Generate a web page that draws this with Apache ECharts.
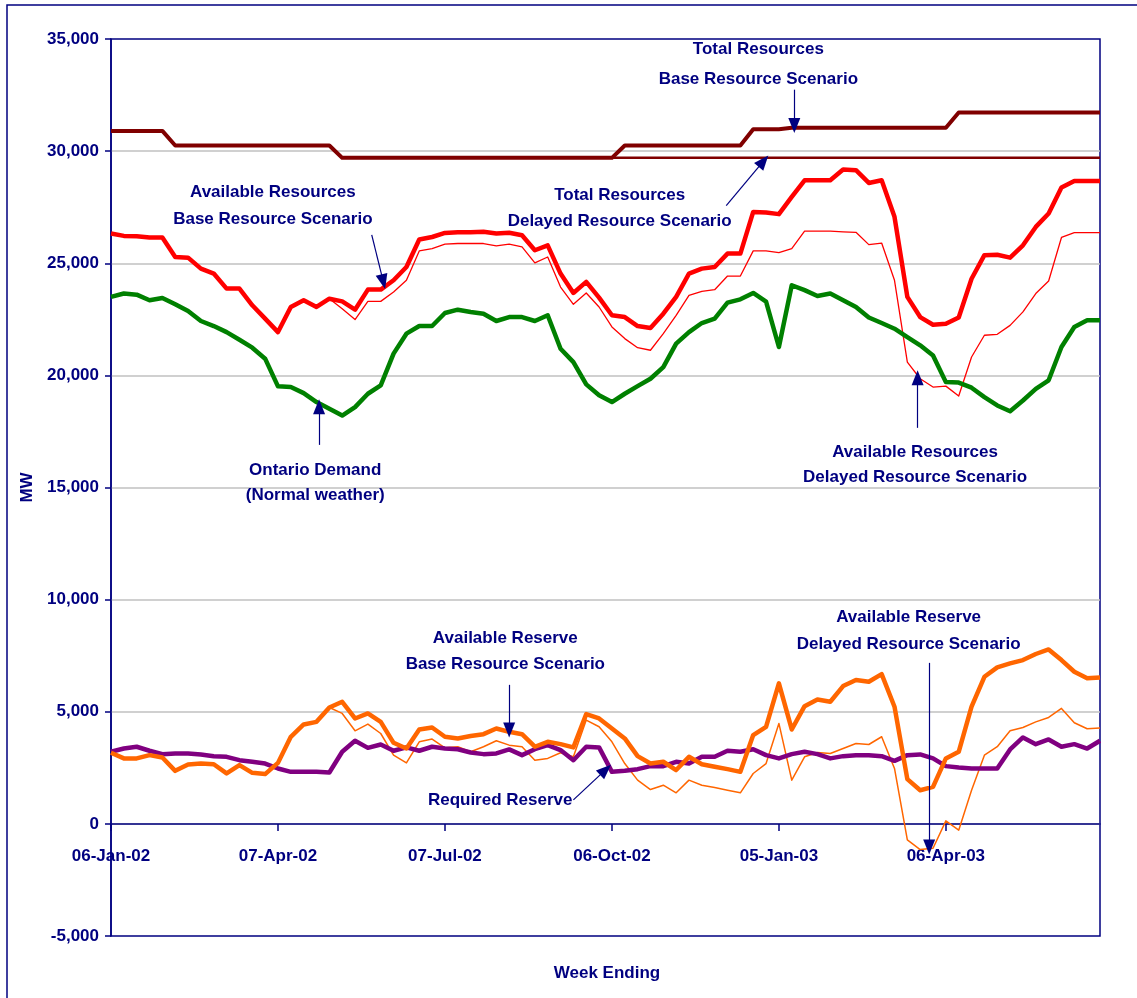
<!DOCTYPE html>
<html>
<head>
<meta charset="utf-8">
<style>
  html, body { margin: 0; padding: 0; background: #fff; }
  #chart { width: 1137px; height: 998px; }
</style>
<script src="https://cdn.jsdelivr.net/npm/echarts@6/dist/echarts.min.js"></script>
</head>
<body>
<div id="chart"></div>
<script>
// week ending dates, 78 weeks from 06-Jan-02
const FIRST_WEEK = Date.UTC(2002, 0, 6)
const WEEK_COUNT = 78
const MONTHS = ['Jan', 'Feb', 'Mar', 'Apr', 'May', 'Jun', 'Jul', 'Aug', 'Sep', 'Oct', 'Nov', 'Dec']
const weeks = []
for (let i = 0; i < WEEK_COUNT; i++) {
  const d = new Date(FIRST_WEEK + i * 7 * 86400000)
  weeks.push(String(d.getUTCDate()).padStart(2, '0') + '-' + MONTHS[d.getUTCMonth()] + '-' + String(d.getUTCFullYear()).slice(2))
}

const yTicks = { min: -5000, max: 35000, step: 5000 }

const totalBase = [
  30900, 30900, 30900, 30900, 30900, 30250, 30250, 30250, 30250, 30250,
  30250, 30250, 30250, 30250, 30250, 30250, 30250, 30250, 29700, 29700,
  29700, 29700, 29700, 29700, 29700, 29700, 29700, 29700, 29700, 29700,
  29700, 29700, 29700, 29700, 29700, 29700, 29700, 29700, 29700, 29700,
  30250, 30250, 30250, 30250, 30250, 30250, 30250, 30250, 30250, 30250,
  30980, 30980, 30980, 31040, 31040, 31040, 31040, 31040, 31040, 31040,
  31040, 31040, 31040, 31040, 31040, 31040, 31720, 31720, 31720, 31720,
  31720, 31720, 31720, 31720, 31720, 31720, 31720, 31720
]
const totalDelayed = [
  30900, 30900, 30900, 30900, 30900, 30250, 30250, 30250, 30250, 30250,
  30250, 30250, 30250, 30250, 30250, 30250, 30250, 30250, 29700, 29700,
  29700, 29700, 29700, 29700, 29700, 29700, 29700, 29700, 29700, 29700,
  29700, 29700, 29700, 29700, 29700, 29700, 29700, 29700, 29700, 29700,
  29700, 29700, 29700, 29700, 29700, 29700, 29700, 29700, 29700, 29700,
  29700, 29700, 29700, 29700, 29700, 29700, 29700, 29700, 29700, 29700,
  29700, 29700, 29700, 29700, 29700, 29700, 29700, 29700, 29700, 29700,
  29700, 29700, 29700, 29700, 29700, 29700, 29700, 29700
]
const availBase = [
  26330, 26220, 26200, 26150, 26150, 25280, 25250, 24760, 24540, 23870,
  23870, 23125, 22530, 21930, 23050, 23350, 23050, 23420, 23300, 22930,
  23825, 23825, 24240, 24835, 26060, 26170, 26350, 26385, 26385, 26400,
  26330, 26360, 26250, 25580, 25800, 24540, 23675, 24170, 23470, 22680,
  22600, 22200, 22110, 22750, 23500, 24540, 24760, 24830, 25430, 25430,
  27290, 27260, 27190, 27960, 28700, 28700, 28700, 29180, 29150, 28580,
  28700, 27070, 23500, 22600, 22260, 22300, 22580, 24310, 25360, 25380,
  25250, 25800, 26620, 27220, 28380, 28670, 28670, 28670
]
const availDelayed = [
  26330, 26220, 26200, 26150, 26150, 25280, 25250, 24760, 24540, 23870,
  23870, 23125, 22530, 21930, 23050, 23350, 23050, 23420, 22970, 22490,
  23300, 23300, 23720, 24240, 25550, 25655, 25850, 25880, 25880, 25880,
  25775, 25850, 25730, 25015, 25280, 23940, 23170, 23675, 23050, 22160,
  21640, 21235, 21120, 21860, 22680, 23570, 23750, 23820, 24430, 24430,
  25550, 25550, 25470, 25650, 26430, 26430, 26430, 26400, 26380, 25830,
  25900, 24240, 20590, 19850, 19480, 19520, 19080, 20820, 21790, 21830,
  22230, 22830, 23650, 24210, 26150, 26370, 26370, 26370
]
const demand = [
  23500, 23650, 23600, 23350, 23450, 23170, 22870, 22425, 22200, 21930,
  21590, 21235, 20745, 19510, 19480, 19210, 18810, 18510, 18210, 18585,
  19180, 19550, 20970, 21860, 22200, 22200, 22780, 22930, 22830, 22750,
  22425, 22600, 22600, 22425, 22680, 21190, 20590, 19600, 19110, 18810,
  19180, 19520, 19850, 20370, 21415, 21930, 22335, 22530, 23245, 23390,
  23675, 23290, 21265, 24020, 23800, 23540, 23650, 23350, 23050, 22580,
  22335, 22080, 21710, 21340, 20890, 19700, 19680, 19450, 19030, 18660,
  18400, 18880, 19400, 19780, 21265, 22160, 22455, 22455
]
const reserveBase = [
  3170, 2920, 2920, 3065, 2960, 2365, 2650, 2690, 2660, 2250,
  2620, 2275, 2220, 2720, 3885, 4435, 4550, 5190, 5445, 4700,
  4925, 4550, 3615, 3360, 4210, 4300, 3885, 3810, 3915, 4000,
  4255, 4105, 4000, 3440, 3660, 3555, 3410, 4895, 4700, 4255,
  3810, 3020, 2690, 2770, 2400, 2990, 2660, 2545, 2440, 2320,
  3960, 4330, 6265, 4210, 5250, 5550, 5445, 6145, 6415, 6340,
  6680, 5225, 1995, 1500, 1650, 2920, 3215, 5225, 6560, 6980,
  7155, 7305, 7575, 7780, 7305, 6785, 6490, 6530
]
const reserveDelayed = [
  3170, 2920, 2920, 3065, 2960, 2365, 2650, 2690, 2660, 2250,
  2620, 2275, 2220, 2720, 3885, 4435, 4550, 5190, 4925, 4150,
  4450, 4030, 3065, 2720, 3660, 3780, 3390, 3440, 3215, 3440,
  3705, 3510, 3440, 2840, 2920, 3170, 2990, 4630, 4330, 3660,
  2690, 1950, 1530, 1725, 1385, 1950, 1725, 1620, 1500, 1385,
  2245, 2690, 4480, 1950, 2990, 3185, 3140, 3360, 3585, 3540,
  3885, 2470, -715, -1145, -1085, 135, -280, 1500, 3065, 3440,
  4150, 4300, 4550, 4745, 5150, 4510, 4240, 4270
]
const requiredReserve = [
  3215, 3360, 3440, 3260, 3110, 3140, 3140, 3095, 3020, 2990,
  2840, 2770, 2690, 2470, 2320, 2320, 2320, 2290, 3215, 3705,
  3390, 3540, 3260, 3410, 3260, 3440, 3360, 3330, 3185, 3110,
  3140, 3320, 3065, 3330, 3510, 3290, 2840, 3440, 3410, 2320,
  2365, 2440, 2575, 2575, 2770, 2690, 2990, 2990, 3260, 3215,
  3330, 3065, 2920, 3110, 3215, 3110, 2920, 3020, 3065, 3065,
  3020, 2810, 3065, 3095, 2920, 2575, 2515, 2470, 2470, 2470,
  3320, 3855, 3555, 3765, 3440, 3555, 3360, 3705
]

// annotation text: [week position, MW, text, line height]
const noteTexts = [
  [50.4, 33850, 'Total Resources\nBase Resource Scenario', 30],
  [12.6, 27540, 'Available Resources\nBase Resource Scenario', 27],
  [39.6, 27470, 'Total Resources\nDelayed Resource Scenario', 26],
  [15.9, 15230, 'Ontario Demand\n(Normal weather)', 25],
  [62.6, 16030, 'Available Resources\nDelayed Resource Scenario', 25],
  [30.7, 7700, 'Available Reserve\nBase Resource Scenario', 26],
  [30.3, 1070, 'Required Reserve', 20],
  [62.1, 8610, 'Available Reserve\nDelayed Resource Scenario', 27]
]
// annotation arrows: [from week, from MW, to week, to MW]
const noteArrows = [
  [53.2, 32740, 53.2, 31140],
  [20.3, 26270, 21.2, 24180],
  [47.9, 27570, 50.8, 29550],
  [16.2, 16900, 16.2, 18600],
  [62.8, 17660, 62.8, 19890],
  [31.0, 6200, 31.0, 4190],
  [36.0, 1070, 38.5, 2410],
  [63.7, 7180, 63.7, -1030]
]

const NAVY = '#000080'
const FONT = '"Liberation Sans", Arial, sans-serif'
const textStyle = { color: NAVY, fontWeight: 'bold', fontSize: 17, fontFamily: FONT }

// grid box; the category axis sits on the zero line
const GRID = { left: 111, top: 39, width: 989, height: 897 }
const zeroOffset = -GRID.height * (0 - yTicks.min) / (yTicks.max - yTicks.min)

const lineSeries = (name, data, color, width) => ({
  name,
  type: 'line',
  data,
  showSymbol: false,
  symbol: 'none',
  lineStyle: { color, width, join: 'round' },
  itemStyle: { color },
  z: 3
})

const chart = echarts.init(document.getElementById('chart'))
chart.setOption({
  animation: false,
  backgroundColor: '#fff',
  grid: Object.assign({
    show: true, borderColor: NAVY, borderWidth: 1.5, backgroundColor: 'transparent'
  }, GRID),
  xAxis: [
    {
      type: 'category',
      data: weeks,
      boundaryGap: false,
      position: 'bottom',
      offset: zeroOffset,
      axisLine: { onZero: false, lineStyle: { color: NAVY, width: 1.5 } },
      axisTick: { show: true, interval: 12, length: 7, lineStyle: { color: NAVY, width: 1.5 } },
      axisLabel: Object.assign({ interval: 12, margin: 24 }, textStyle),
      splitLine: { show: false }
    },
    { type: 'value', min: 0, max: WEEK_COUNT - 1, show: false }
  ],
  yAxis: {
    type: 'value',
    min: yTicks.min,
    max: yTicks.max,
    interval: yTicks.step,
    name: 'MW',
    nameLocation: 'middle',
    nameGap: 68,
    nameTextStyle: textStyle,
    axisLine: { show: true, lineStyle: { color: NAVY, width: 1.5 } },
    axisTick: { show: true, length: 6, lineStyle: { color: NAVY, width: 1.5 } },
    axisLabel: Object.assign({
      margin: 12,
      formatter: v => v.toLocaleString('en-US')
    }, textStyle),
    splitLine: { show: true, showMinLine: false, showMaxLine: false, lineStyle: { color: '#c0c0c0', width: 1.5 } }
  },
  series: [
    lineSeries('Total Resources Delayed', totalDelayed, '#800000', 2.5),
    lineSeries('Total Resources Base', totalBase, '#800000', 4),
    lineSeries('Available Resources Delayed', availDelayed, '#ff0000', 1.3),
    lineSeries('Available Resources Base', availBase, '#ff0000', 4.5),
    lineSeries('Ontario Demand', demand, '#008000', 4.5),
    lineSeries('Available Reserve Delayed', reserveDelayed, '#ff6600', 1.5),
    lineSeries('Required Reserve', requiredReserve, '#800080', 4.5),
    lineSeries('Available Reserve Base', reserveBase, '#ff6600', 4.5),
    {
      name: 'notes',
      type: 'line',
      xAxisIndex: 1,
      data: [],
      silent: true,
      z: 5,
      markPoint: {
        symbol: 'circle',
        symbolSize: 0,
        itemStyle: { color: 'transparent' },
        data: noteTexts.map(([x, y, text, lh]) => ({
          coord: [x, y],
          label: Object.assign({ show: true, position: 'inside', formatter: text, lineHeight: lh, align: 'center' }, textStyle)
        }))
      },
      markLine: {
        silent: true,
        symbol: ['none', 'triangle'],
        symbolSize: [12, 15],
        label: { show: false },
        lineStyle: { color: NAVY, width: 1.2, type: 'solid' },
        data: noteArrows.map(([x1, y1, x2, y2]) => [{ coord: [x1, y1] }, { coord: [x2, y2] }])
      }
    }
  ],
  graphic: [
    {
      type: 'rect',
      x: 7, y: 5,
      shape: { x: 0, y: 0, width: 1200, height: 1100 },
      style: { fill: 'none', stroke: NAVY, lineWidth: 1.5 },
      silent: true
    },
    {
      type: 'text',
      x: 607, y: 973,
      style: { text: 'Week Ending', textAlign: 'center', textVerticalAlign: 'middle', fill: NAVY, font: 'bold 17px ' + FONT },
      silent: true
    }
  ]
})
</script>
</body>
</html>
